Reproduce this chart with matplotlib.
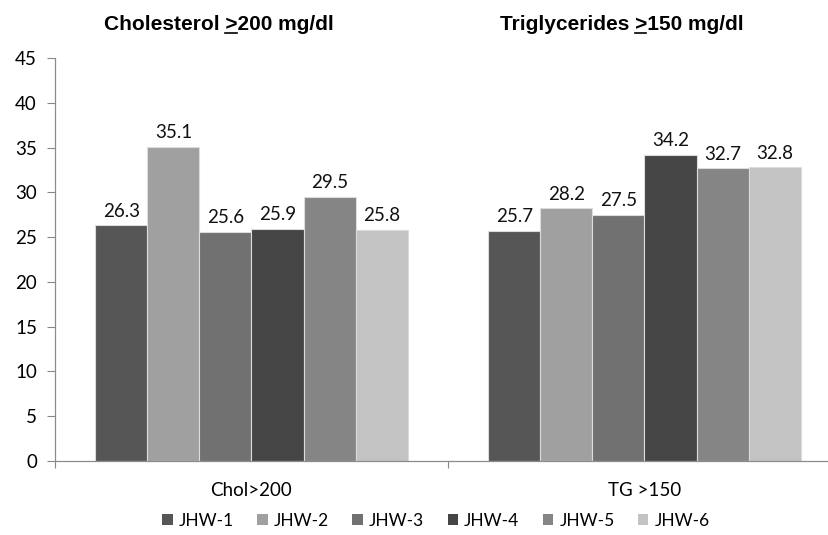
import matplotlib
matplotlib.use("Agg")
import matplotlib.pyplot as plt
import numpy as np
from matplotlib.lines import Line2D

categories = ["Chol>200", "TG >150"]
series_names = ["JHW-1", "JHW-2", "JHW-3", "JHW-4", "JHW-5", "JHW-6"]
chol_values = [26.3, 35.1, 25.6, 25.9, 29.5, 25.8]
tg_values = [25.7, 28.2, 27.5, 34.2, 32.7, 32.8]
panel_titles = ["Cholesterol >200 mg/dl", "Triglycerides >150 mg/dl"]
yticks = [0, 5, 10, 15, 20, 25, 30, 35, 40, 45]

colors = ["#565656", "#a0a0a0", "#717171", "#454545", "#858585", "#c3c3c3"]
body_font = "Lato"
title_font = "Liberation Sans"

W, H = 829, 535
fig = plt.figure(figsize=(W / 100, H / 100), dpi=100)
ax_left, ax_right = 55, 841
ax_bottom, ax_top = 461, 58
ax = fig.add_axes([ax_left / W, 1 - ax_bottom / H,
                   (ax_right - ax_left) / W, (ax_bottom - ax_top) / H])

x = np.arange(len(categories))
n = len(series_names)
group_w = 0.794
bar_w = group_w / n
values = np.array([chol_values, tg_values])

for i, name in enumerate(series_names):
    xs = x - group_w / 2 + bar_w * (i + 0.5)
    vals = values[:, i]
    ax.bar(xs, vals, width=bar_w, color=colors[i], edgecolor="#dcdcdc",
           linewidth=0.8, label=name, zorder=2)
    for xi, v in zip(xs, vals):
        ax.annotate(f"{v:.1f}", (xi, v), xytext=(0, 4), textcoords="offset points",
                    ha="center", va="bottom", fontsize=13.5, family=body_font,
                    color="#111111")

ax.set_xlim(-0.5, 1.5)
ax.set_ylim(0, 45)
ax.set_yticks(yticks)
ax.set_yticklabels([str(t) for t in yticks], fontsize=13.5, family=body_font)
ax.set_xticks([-0.5, 0.5, 1.5])
ax.set_xticklabels([])
ax.tick_params(axis="y", length=6, width=0.8, color="#888888", pad=7)
ax.tick_params(axis="x", length=5, width=0.8, color="#888888", direction="out")
for side in ["top", "right"]:
    ax.spines[side].set_visible(False)
for side in ["left", "bottom"]:
    ax.spines[side].set_color("#8c8c8c")
    ax.spines[side].set_linewidth(0.9)

# category labels under each group
for xi, cat in zip(x, categories):
    ax.annotate(cat, (xi, 0), xytext=(0, -15), textcoords="offset points",
                ha="center", va="top", fontsize=13.5, family=body_font,
                annotation_clip=False)

# panel titles with an underlined ">" (greater-or-equal)
renderer = fig.canvas.get_renderer()
title_cx = [219, 622]
title_y = 25
tsize = 15
for cx, ttl in zip(title_cx, panel_titles):
    t = fig.text(cx / W, 1 - title_y / H, ttl, ha="center", va="center",
                 fontsize=tsize, fontweight="bold", family=title_font)
    bb = t.get_window_extent(renderer)
    suffix = ttl.split(">")[1]
    tmp1 = fig.text(0, 0, ">" + suffix, fontsize=tsize, fontweight="bold", family=title_font)
    tmp2 = fig.text(0, 0, suffix, fontsize=tsize, fontweight="bold", family=title_font)
    w1 = tmp1.get_window_extent(renderer).width
    w2 = tmp2.get_window_extent(renderer).width
    tmp1.remove()
    tmp2.remove()
    x0 = bb.x1 - w1
    x1 = bb.x1 - w2 - 1
    y_ul = bb.y0 + 1.5
    fig.add_artist(Line2D([x0 / W, x1 / W], [y_ul / H, y_ul / H],
                          transform=fig.transFigure, color="black", linewidth=1.2))

leg = fig.legend(loc="center", bbox_to_anchor=(436 / W, 1 - 521 / H), ncol=6,
                 frameon=False, handlelength=0.6, handleheight=0.6,
                 handletextpad=0.35, columnspacing=1.35,
                 prop={"family": body_font, "size": 12.5})
for h in leg.legend_handles:
    h.set_edgecolor("none")

fig.savefig("out.png", dpi=100)
